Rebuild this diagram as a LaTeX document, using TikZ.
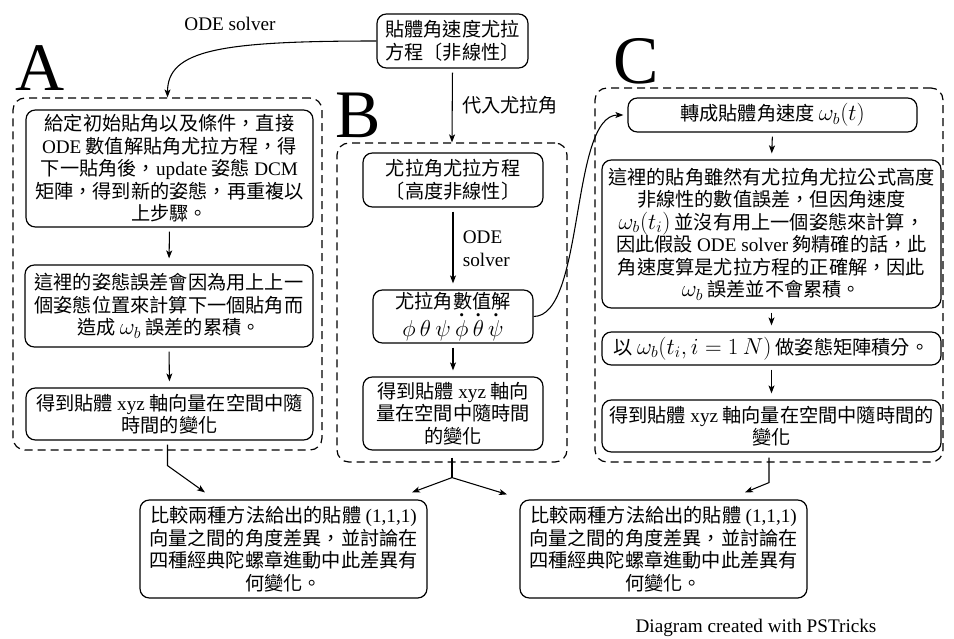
\documentclass[tikz,border=0pt]{standalone}
\usepackage{amsmath}
\usepackage[no-math]{fontspec}
\setmainfont{Noto Sans CJK TC}
\newfontfamily\tm{Liberation Serif}
\usetikzlibrary{arrows.meta,calc}
\DeclareMathSizes{14.4}{16}{11.5}{9}
\newcommand\boxfont{\fontsize{14.4}{16.9}\selectfont}
\newcommand\tdot[1]{\overset{\mbox{\tm\bfseries .}}{#1}}
\tikzset{
  x=0.75pt, y=-0.75pt,
  wh/.style 2 args={minimum width=#1*0.75pt, minimum height=#2*0.75pt},
  box/.style={draw, line width=0.9pt, rounded corners=7pt, align=center, inner sep=0pt, font=\boxfont},
  group/.style={draw, line width=0.9pt, dash pattern=on 6pt off 3.75pt, rounded corners=9pt, inner sep=0pt},
  arr/.style={-{Stealth[length=6pt,width=4.5pt,inset=1.5pt]}, line width=0.8pt},
  inarr/.style={arr, shorten <=3pt, shorten >=4.5pt},
  plain/.style={line width=0.8pt},
  lab/.style={font=\boxfont, inner sep=0pt},
  serlab/.style={font=\boxfont\tm, inner sep=0pt},
  big/.style={font=\fontsize{51}{51}\selectfont\tm, inner sep=0pt, anchor=base}
}
\begin{document}
\begin{tikzpicture}
\useasboundingbox (0,0) rectangle (954,639);

% big letters
\node[big] (LA) at (40,90) {A};
\node[big] (LB) at (358,137) {B};
\node[big] (LC) at (636,83) {C};

% top box
\node[box, wh={151}{54}] (T) at (452.5,41) {貼體角速度尤拉\\方程〔非線性〕};

% dashed groups
\node[group, wh={309}{352}] (Abox) at (167.5,274) {};
\node[group, wh={230}{319}] (Bbox) at (452,302.5) {};
\node[group, wh={348}{374}] (Cbox) at (769,275) {};

% group A
\node[box, wh={287}{117}] (A1) at (169.5,168.5) {給定初始貼角以及條件，直接\\{\tm ODE} 數值解貼角尤拉方程，得\\下一貼角後，{\tm update} 姿態 {\tm DCM}\\矩陣，得到新的姿態，再重複以\\上步驟。};
\node[box, wh={288}{82}] (A2) at (169,306) {這裡的姿態誤差會因為用上上一\\個姿態位置來計算下一個貼角而\\造成 $\omega_b$ 誤差的累積。};
\node[box, wh={287}{52}] (A3) at (169.5,414) {得到貼體 {\tm xyz} 軸向量在空間中隨\\時間的變化};

% group B
\node[box, wh={180}{54}] (B1) at (453,180) {尤拉角尤拉方程\\〔高度非線性〕};
\node[box, wh={160}{53}] (B2) at (453,316.5) {尤拉角數值解\\$\phi\ \theta\ \psi\ \tdot{\phi}\ \tdot{\theta}\ \tdot{\psi}$};
\node[box, wh={180}{73}] (B3) at (453,413.5) {得到貼體 {\tm xyz} 軸向\\量在空間中隨時間\\的變化};

% group C
\node[box, wh={289}{34}] (C1) at (772.5,115) {轉成貼體角速度 $\omega_b(t)$};
\node[box, wh={339}{148}] (C2) at (771.5,234) {這裡的貼角雖然有尤拉角尤拉公式高度\\非線性的數值誤差，但因角速度\\$\omega_b(t_i)$ 並沒有用上一個姿態來計算，\\因此假設 {\tm ODE solver} 夠精確的話，此\\角速度算是尤拉方程的正確解，因此\\$\omega_b$ 誤差並不會累積。};
\node[box, wh={339}{33}] (C3) at (771.5,348.5) {以 $\omega_b(t_i, i = 1\ N)$ 做姿態矩陣積分。};
\node[box, wh={339}{52}] (C4) at (771.5,426) {得到貼體 {\tm xyz} 軸向量在空間中隨時間的\\變化};

% bottom boxes
\node[box, wh={287}{98}] (D1) at (283.5,549) {比較兩種方法給出的貼體 {\tm (1,1,1)}\\向量之間的角度差異，並討論在\\四種經典陀螺章進動中此差異有\\何變化。};
\node[box, wh={287}{98}] (D2) at (663.5,549) {比較兩種方法給出的貼體 {\tm (1,1,1)}\\向量之間的角度差異，並討論在\\四種經典陀螺章進動中此差異有\\何變化。};

% labels
\node[serlab] (odeA) at (230,24) {ODE solver};
\node[serlab, anchor=base] (credit) at (756,632) {Diagram created with PSTricks};

% connectors
\draw[arr, shorten <=3pt] (T.south) -- (Bbox.north)
  node[lab, midway, anchor=west, xshift=7pt] {代入尤拉角};
\draw[arr] (T.west) .. controls (220,41) and (167.5,50) .. (Abox.north);

\draw[inarr] (A1.south) -- (A2.north);
\draw[inarr] (A2.south) -- (A3.north);

\draw[inarr] (B1.south) -- (B2.north)
  node[serlab, midway, anchor=west, xshift=7pt, align=left] {ODE\\solver};
\draw[inarr] (B2.south) -- (B3.north);

\draw[arr, shorten >=3pt] (B2.east) .. controls (585,316.5) and (570,115) .. (C1.west);

\draw[inarr] (C1.south) -- (C2.north);
\draw[inarr] (C2.south) -- (C3.north);
\draw[inarr] (C3.south) -- (C4.north);

\draw[arr] ($(Abox.south)+(0,-6)$) -- ++(0,21) -- ($(D1.north)+(-78.5,-7)$);
\draw[plain] ($(Bbox.south)+(0,-5)$) -- ++(0,20) coordinate (bj);
\draw[arr] (bj) -- ($(D1.north)+(128.5,-7)$);
\draw[arr] (bj) -- ($(D2.north)+(-156.5,-5)$);
\draw[arr] ($(Cbox.south)+(0,-5)$) -- ++(0,25) -- ($(D2.north)+(81.5,-7)$);
\end{tikzpicture}
\end{document}
